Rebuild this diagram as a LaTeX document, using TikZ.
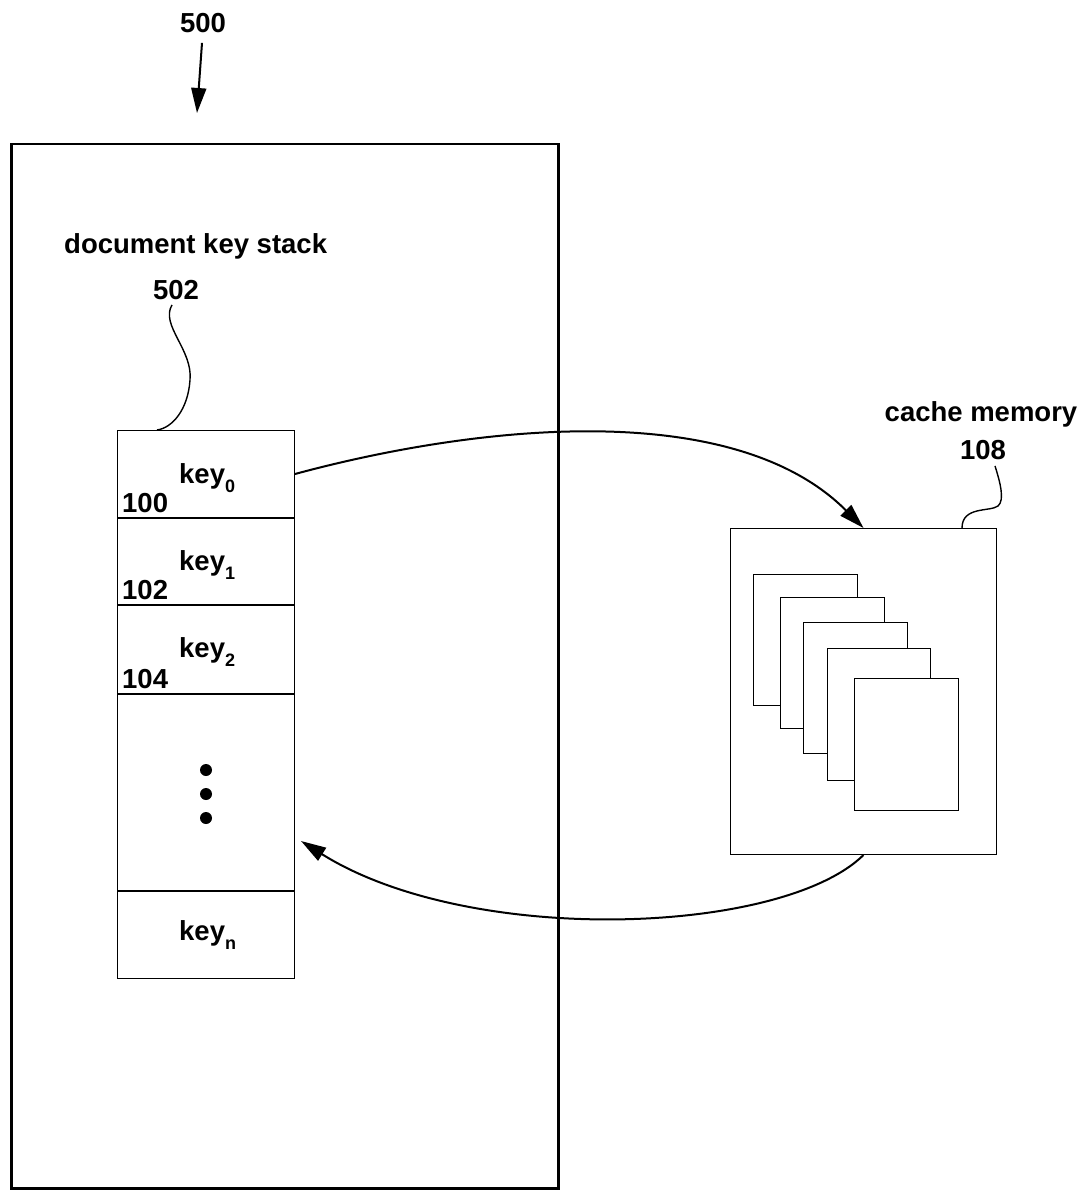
\documentclass[tikz,border=0pt]{standalone}
\usepackage{fontspec}
\setmainfont{Liberation Sans}
\usetikzlibrary{arrows.meta}
\newcommand\ksub[1]{\raisebox{-9pt}{\fontsize{18}{18}\selectfont\bfseries #1}}
\begin{document}
\begin{tikzpicture}[x=1pt,y=-1pt,
  lbl/.style={inner sep=0pt,font=\fontsize{27.5}{30}\selectfont\bfseries},
  cell/.style={draw,line width=1pt,minimum width=177pt,inner sep=0pt,anchor=north west},
  pagebox/.style={draw,line width=1pt,fill=white,inner sep=0pt,anchor=north west},
  arr/.style={line width=2pt,-{Triangle[length=25pt,width=15pt]}},
  lead/.style={line width=1.4pt},
  dotnode/.style={circle,fill,inner sep=0pt,minimum size=12pt}]
\useasboundingbox (0,0) rectangle (1089,1190);

% outer system box
\node[draw,line width=2.5pt,minimum width=547pt,minimum height=1044pt,inner sep=0pt,anchor=north west] (sys) at (10,143) {};

% labels
\node[lbl] (t500) at (203,23) {500};
\coordinate (a500) at (197,113);
\draw[arr] ([xshift=-1pt,yshift=-10pt]t500.south) -- (a500);
\node[lbl,anchor=base west] (tdks) at (64,254) {document key stack};
\node[lbl] (t502) at (176,290) {502};

% stack cells
\node[cell,minimum height=87pt] (c0) at (117,430) {};
\node[cell,minimum height=87pt] (c1) at (117,517) {};
\node[cell,minimum height=89pt] (c2) at (117,604) {};
\node[cell,minimum height=197pt] (cd) at (117,693) {};
\node[cell,minimum height=88pt] (cn) at (117,890) {};
\foreach \c in {c0,c1,c2,cd} \draw[line width=2pt] (\c.south west) -- (\c.south east);

\node[lbl,anchor=base west] (k0) at (179,483) {key\ksub{0}};
\node[lbl,anchor=base west] (n100) at (122,512) {100};
\node[lbl,anchor=base west] (k1) at (179,570) {key\ksub{1}};
\node[lbl,anchor=base west] (n102) at (122,599) {102};
\node[lbl,anchor=base west] (k2) at (179,657) {key\ksub{2}};
\node[lbl,anchor=base west] (n104) at (122,688) {104};
\node[lbl,anchor=base west] (kn) at (179,940) {key\ksub{n}};

\node[dotnode] (d1) at (206,770) {};
\node[dotnode] (d2) at (206,794) {};
\node[dotnode] (d3) at (206,818) {};

% leader 502
\draw[lead] ([xshift=-4pt,yshift=-5pt]t502.south) .. controls (160,325) and (193,350) .. (190,380) .. controls (188,410) and (172,428) .. ([xshift=40pt]c0.north west);

% cache memory
\node[lbl,anchor=base] (tcache) at (981,421) {cache memory};
\node[lbl] (t108) at (983,450) {108};
\node[pagebox,minimum width=266pt,minimum height=326pt] (cache) at (730,528) {};
\node[pagebox,minimum width=104pt,minimum height=131pt] (p1) at (753,574) {};
\node[pagebox,minimum width=104pt,minimum height=131pt] (p2) at (780,597) {};
\node[pagebox,minimum width=104pt,minimum height=131pt] (p3) at (803,622) {};
\node[pagebox,minimum width=103pt,minimum height=132pt] (p4) at (827,648) {};
\node[pagebox,minimum width=104pt,minimum height=132pt] (p5) at (854,678) {};

% leader 108
\draw[lead] ([xshift=12pt,yshift=-6pt]t108.south) .. controls (1000,482) and (1005,500) .. (998,506) .. controls (990,512) and (962,506) .. ([xshift=232pt]cache.north west);

% arrows
\draw[arr] (c0.east) .. controls (476,425) and (733,397) .. (cache.north);
\draw[arr] (cache.south) .. controls (782,935) and (470,947) .. ([xshift=6pt,yshift=-49pt]cd.east);
\end{tikzpicture}
\end{document}
